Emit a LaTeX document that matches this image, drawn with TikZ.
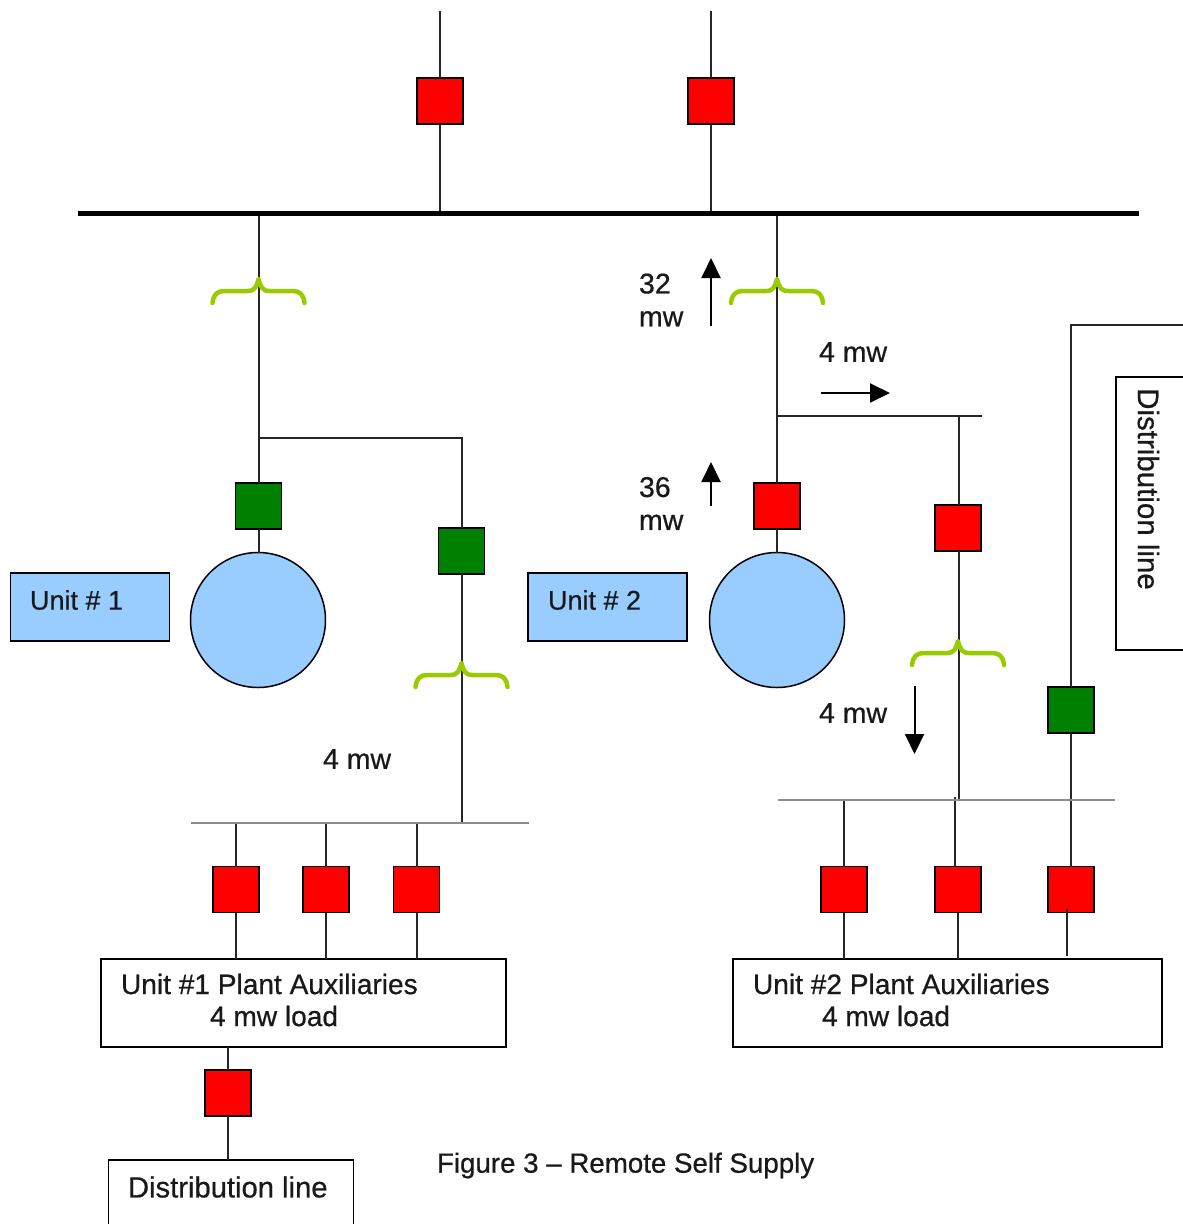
\documentclass[tikz,border=0pt]{standalone}
\usepackage{fontspec}
\setmainfont{Liberation Sans}[RawFeature={embolden=0.6}]
\usetikzlibrary{arrows.meta,calc}
\definecolor{unitblue}{RGB}{153,204,255}
\definecolor{brk}{RGB}{255,0,0}
\definecolor{grn}{RGB}{0,128,0}
\definecolor{lime}{RGB}{153,204,0}
\tikzset{
  x=1pt,y=-1pt,
  every node/.style={inner sep=0pt,outer sep=0pt},
  wire/.style={line width=2pt,black!85},
  redsq/.style={draw=black,fill=brk,line width=1.8pt,minimum width=46pt,minimum height=46pt},
  grnsq/.style={draw=black,fill=grn,line width=1.8pt,minimum width=46pt,minimum height=46pt},
  gen/.style={circle,draw=black,fill=unitblue,line width=1.5pt,minimum size=135pt},
  unitbox/.style={draw=black,fill=unitblue,line width=1.5pt,minimum width=159pt,minimum height=68pt},
  plainbox/.style={draw=black,fill=white,line width=1.8pt},
  lbl/.style={anchor=west,align=left,font=\fontsize{28.5}{33}\selectfont,text=black!90},
  bus/.style={line width=5pt,black},
  minibus/.style={line width=2pt,black!45},
  flow/.style={line width=2pt,black,-{Triangle[length=20pt,width=19pt]}},
  gbrace/.pic={\draw[lime,line width=4.5pt,line cap=round,line join=round]
     (-46,12) .. controls (-45,3) and (-41,0) .. (-34,0) -- (-11,0)
     .. controls (-4,0) and (-2,-4) .. (0,-12)
     .. controls (2,-4) and (4,0) .. (11,0) -- (34,0)
     .. controls (41,0) and (45,3) .. (46,12);}
}
\begin{document}
\begin{tikzpicture}
\useasboundingbox (0,0) rectangle (1183,1224);
\clip (0,0) rectangle (1183,1224);
% fixed points
\coordinate (busL) at (78,213.5);
\coordinate (busR) at (1139,213.5);
\coordinate (top1) at (440,11);
\coordinate (top2) at (711,11);
\coordinate (tap1) at (259,438);
\coordinate (cor1) at (462,438);
\coordinate (tap2) at (777,416);
\coordinate (end2) at (982,416);
\coordinate (jn2) at (958.5,416);
\coordinate (bus1L) at (191,822.5);
\coordinate (bus1R) at (529,822.5);
\coordinate (bus2L) at (778,800);
\coordinate (bus2R) at (1115,800);
\coordinate (cor3) at (1071,325);
\coordinate (edge3) at (1190,325);
% boxes
\node[plainbox,minimum width=405pt,minimum height=88pt] (aux1) at (303.5,1003) {};
\node[plainbox,minimum width=429pt,minimum height=88pt] (aux2) at (947.5,1003) {};
\node[plainbox,minimum width=245pt,minimum height=90pt] (dist1) at (231,1205) {};
\node[plainbox,minimum width=90pt,minimum height=273pt] (dist2) at (1161,513.5) {};
% breakers
\node[redsq] (t1) at (440,101) {};
\node[redsq] (t2) at (711,101) {};
\node[grnsq] (g1) at (258.5,506) {};
\node[grnsq] (g2) at (461.5,551) {};
\node[redsq] (r1) at (777,506) {};
\node[redsq] (r2) at (958,528) {};
\node[grnsq] (g3) at (1071,710) {};
\node[redsq] (a1) at (236,889.5) {};
\node[redsq] (a2) at (326,889.5) {};
\node[redsq] (a3) at (416.5,889.5) {};
\node[redsq] (b1) at (844,889.5) {};
\node[redsq] (b2) at (958,889.5) {};
\node[redsq] (b3) at (1071,889.5) {};
\node[redsq] (d1) at (228,1093) {};
% generators
\node[gen] (u1) at (258,620) {};
\node[gen] (u2) at (777,620) {};
\node[unitbox] (ub1) at (90,607) {};
\node[unitbox] (ub2) at (607.5,607) {};
% wires
\draw[wire] (top1) -- (t1.north);
\draw[wire] (top2) -- (t2.north);
\draw[wire] (t1.south) -- (t1.south |- busL);
\draw[wire] (t2.south) -- (t2.south |- busL);
\draw[wire] (tap1 |- busL) -- (tap1) -- (tap1 |- g1.north);
\draw[wire] (tap1) -- (cor1) -- (cor1 |- g2.north);
\draw[wire] (g1.south) -- (g1.south |- u1.north);
\draw[wire] (g2.south) -- (g2.south |- bus1L);
\draw[wire] (tap2 |- busL) -- (tap2) -- (r1.north);
\draw[wire] (r1.south) -- (u2.north);
\draw[wire] (tap2) -- (end2);
\draw[wire] (jn2) -- (jn2 |- r2.north);
\draw[wire] (jn2 |- r2.south) -- (jn2 |- bus2L);
\draw[wire] (a1.north) -- (a1.north |- bus1L);
\draw[wire] (a2.north) -- (a2.north |- bus1L);
\draw[wire] (a3.north) -- (a3.north |- bus1L);
\draw[wire] (a1.south) -- (a1.south |- aux1.north);
\draw[wire] (a2.south) -- (a2.south |- aux1.north);
\draw[wire] (a3.south) -- (a3.south |- aux1.north);
\draw[wire] (b1.north) -- (b1.north |- bus2L);
\draw[wire] (955,867) -- (955,797);
\draw[wire] (b1.south) -- (b1.south |- aux2.north);
\draw[wire] (b2.south) -- (b2.south |- aux2.north);
\draw[wire] (1067,909) -- (1067,956);
\draw[wire] (g3.south) -- (b3.north);
\draw[wire] (edge3) -- (cor3) -- (g3.north);
\draw[wire] (aux1.south -| d1) -- (d1.north);
\draw[wire] (d1.south) -- (d1.south |- dist1.north);
% buses
\draw[bus] (busL) -- (busR);
\draw[minibus] (bus1L) -- (bus1R);
\draw[minibus] (bus2L) -- (bus2R);
% braces
\pic at (258.5,291) {gbrace};
\pic at (777,291) {gbrace};
\pic at (958,653) {gbrace};
\pic at (461.5,675) {gbrace};
% flow arrows
\coordinate (f1a) at (711,326); \coordinate (f1b) at (711,258);
\coordinate (f2a) at (711,506); \coordinate (f2b) at (711,462);
\coordinate (f3a) at (821,393); \coordinate (f3b) at (890,393);
\coordinate (f4a) at (914.5,686); \coordinate (f4b) at (914.5,754);
\draw[flow] (f1a) -- (f1b);
\draw[flow] (f2a) -- (f2b);
\draw[flow] (f3a) -- (f3b);
\draw[flow] (f4a) -- (f4b);
% labels
\node[lbl,font=\fontsize{27}{33}\selectfont] (lu1) at (30,600) {Unit \# 1};
\node[lbl,font=\fontsize{27}{33}\selectfont] (lu2) at (548,600) {Unit \# 2};
\node[lbl] (l32) at (639,300) {32\\mw};
\node[lbl] (l36) at (639,503.5) {36\\mw};
\node[lbl] (l4a) at (819,352) {4 mw};
\node[lbl] (l4b) at (819,713) {4 mw};
\node[lbl] (l4c) at (323,759) {4 mw};
\node[lbl,font=\fontsize{28.1}{32}\selectfont] (laux1) at (121,1000) {Unit \#1 Plant Auxiliaries\\\hspace*{89pt}4 mw load};
\node[lbl,font=\fontsize{28.1}{32}\selectfont] (laux2) at (753,1000) {Unit \#2 Plant Auxiliaries\\\hspace*{69pt}4 mw load};
\node[lbl,font=\fontsize{29.2}{33}\selectfont] (ld1) at (128,1187) {Distribution line};
\node[lbl,rotate=-90,anchor=center,font=\fontsize{29.5}{33}\selectfont] (ld2) at (1148.5,489) {Distribution line};
\node[lbl,font=\fontsize{27.7}{33}\selectfont] (cap) at (437,1165.5) {Figure 3 – Remote Self Supply};
\end{tikzpicture}
\end{document}
